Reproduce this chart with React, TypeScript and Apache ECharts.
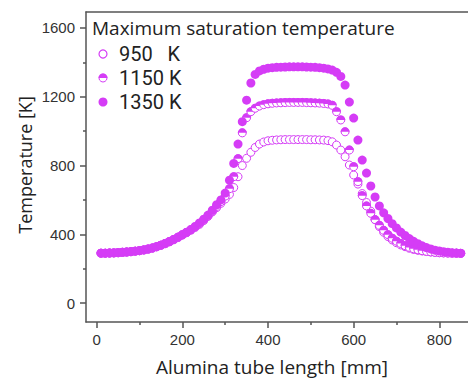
import React, { useEffect, useRef } from "react";
import * as echarts from "echarts";

const positions = [
  10, 20, 30, 40, 50, 60, 70, 80, 90, 100, 110, 120, 130, 140, 150, 160, 170, 180, 190, 200,
  210, 220, 230, 240, 250, 260, 270, 280, 290, 300, 310, 320, 330, 340, 350, 360, 370, 380, 390, 400,
  410, 420, 430, 440, 450, 460, 470, 480, 490, 500, 510, 520, 530, 540, 550, 560, 570, 580, 590, 600,
  610, 620, 630, 640, 650, 660, 670, 680, 690, 700, 710, 720, 730, 740, 750, 760, 770, 780, 790, 800,
  810, 820, 830, 840, 850,
];

const temp950 = [
  290, 290, 291, 292, 293, 295, 297, 299, 302, 305, 309, 314, 320, 327, 336, 345, 356, 368, 381, 395,
  409, 424, 440, 458, 480, 504, 530, 555, 580, 605, 632, 672, 735, 800, 842, 877, 905, 925, 937, 944,
  947, 949, 950, 951, 951, 951, 951, 951, 951, 950, 950, 949, 948, 945, 938, 919, 890, 851, 803, 745,
  692, 637, 585, 535, 485, 445, 412, 387, 367, 351, 338, 328, 319, 312, 307, 303, 300, 297, 295, 293,
  292, 291, 290, 290, 289,
];

const temp1150 = [
  290, 290, 291, 292, 293, 295, 297, 299, 302, 305, 309, 314, 320, 328, 337, 347, 358, 370, 383, 397,
  411, 426, 443, 462, 484, 508, 535, 562, 590, 622, 665, 735, 840, 990, 1078, 1113, 1133, 1146, 1154, 1159,
  1162, 1164, 1165, 1166, 1167, 1167, 1167, 1167, 1166, 1165, 1164, 1163, 1161, 1158, 1150, 1113, 1065, 996, 890, 793,
  706, 625, 565, 522, 485, 452, 423, 398, 377, 360, 346, 334, 324, 316, 310, 305, 301, 298, 295, 293,
  292, 291, 290, 290, 289,
];

const temp1350 = [
  290, 290, 291, 292, 293, 295, 297, 299, 302, 305, 309, 314, 320, 328, 337, 347, 358, 370, 384, 398,
  412, 428, 446, 466, 488, 512, 540, 572, 600, 640, 715, 812, 925, 1055, 1180, 1280, 1330, 1350, 1360, 1366,
  1369, 1371, 1372, 1373, 1374, 1374, 1374, 1374, 1373, 1372, 1371, 1369, 1366, 1362, 1355, 1342, 1318, 1268, 1169, 1076,
  948, 832, 756, 681, 617, 565, 525, 492, 462, 437, 413, 393, 375, 359, 345, 333, 323, 315, 308, 303,
  299, 296, 293, 291, 290,
];

const xMajorTicks = [0, 200, 400, 600, 800];
const xMinorTicks = [100, 300, 500, 700];
const yMajorTicks = [0, 400, 800, 1200, 1600];
const yMinorTicks = [200, 600, 1000, 1400];

const legendTitle = "Maximum saturation temperature";
const seriesNames = ["950   K", "1150 K", "1350 K"];
const xTitle = "Alumina tube length [mm]";
const yTitle = "Temperature [K]";

const MAG = "#d53cf6";
const AXIS = "#555";
const UI_FONT = "'Open Sans', 'Noto Sans', sans-serif";
const LEG_FONT = "Roboto, 'Open Sans', sans-serif";
const NUM_FONT = "'Liberation Sans', Arial, sans-serif";

const pairs = (ys: number[]) => positions.map((x, i) => [x, ys[i]]);
const plain = (v: number) => String(v);

const openMark = (cx: number, cy: number) => ({
  type: "circle",
  shape: { cx, cy, r: 4 },
  style: { fill: "#fff", stroke: MAG, lineWidth: 1 },
});
const halfMark = (cx: number, cy: number) => ({
  type: "group",
  children: [
    { type: "circle", shape: { cx, cy, r: 4 }, style: { fill: "#fff", stroke: MAG, lineWidth: 1 } },
    {
      type: "sector",
      shape: { cx, cy, r: 4.5, r0: 0, startAngle: Math.PI, endAngle: 2 * Math.PI, clockwise: true },
      style: { fill: MAG },
    },
  ],
});
const fullMark = (cx: number, cy: number) => ({
  type: "circle",
  shape: { cx, cy, r: 4.5 },
  style: { fill: MAG },
});

const markSeries = (name: string, ys: number[], z: number, draw: (x: number, y: number) => any) => ({
  name,
  type: "custom",
  z,
  xAxisIndex: 0,
  yAxisIndex: 0,
  data: pairs(ys),
  encode: { x: 0, y: 1 },
  renderItem: (_p: any, api: any) => {
    const c = api.coord([api.value(0), api.value(1)]);
    return draw(c[0], c[1]);
  },
});

const legendRows = [54, 78, 102];

export default function App() {
  const ref = useRef<HTMLDivElement>(null);
  useEffect(() => {
    if (!ref.current) return;
    const chart = echarts.init(ref.current, null, { renderer: "svg" });
    const grid = { left: 86, right: 0, top: 12, bottom: 58 };
    const xRange = { min: -25, max: 867 };
    const yRange = { min: -110, max: 1693 };
    const option: any = {
      animation: false,
      backgroundColor: "#fff",
      grid,
      xAxis: [
        {
          type: "value",
          position: "bottom",
          ...xRange,
          axisLine: { show: true, onZero: false, lineStyle: { color: AXIS, width: 1.5 } },
          axisTick: { show: true, length: 6, customValues: xMajorTicks, lineStyle: { color: AXIS, width: 1.5 } },
          axisLabel: { customValues: xMajorTicks, formatter: plain, margin: 10, fontSize: 15, fontFamily: NUM_FONT, color: "#333" },
          splitLine: { show: false },
        },
        {
          type: "value",
          position: "bottom",
          ...xRange,
          axisLine: { show: false, onZero: false },
          axisTick: { show: true, length: 3, customValues: xMinorTicks, lineStyle: { color: AXIS, width: 1.5 } },
          axisLabel: { show: false },
          splitLine: { show: false },
        },
        {
          type: "value",
          position: "top",
          ...xRange,
          axisLine: { show: true, onZero: false, lineStyle: { color: AXIS, width: 1.5 } },
          axisTick: { show: false },
          axisLabel: { show: false },
          splitLine: { show: false },
        },
      ],
      yAxis: [
        {
          type: "value",
          position: "left",
          ...yRange,
          axisLine: { show: true, onZero: false, lineStyle: { color: AXIS, width: 1.5 } },
          axisTick: { show: true, length: 6, customValues: yMajorTicks, lineStyle: { color: AXIS, width: 1.5 } },
          axisLabel: { customValues: yMajorTicks, formatter: plain, margin: 11, fontSize: 15, fontFamily: NUM_FONT, color: "#333" },
          splitLine: { show: false },
        },
        {
          type: "value",
          position: "left",
          ...yRange,
          axisLine: { show: false, onZero: false },
          axisTick: { show: true, length: 3, customValues: yMinorTicks, lineStyle: { color: AXIS, width: 1.5 } },
          axisLabel: { show: false },
          splitLine: { show: false },
        },
      ],
      series: [
        markSeries(seriesNames[0], temp950, 2, openMark),
        markSeries(seriesNames[1], temp1150, 3, halfMark),
        markSeries(seriesNames[2], temp1350, 4, fullMark),
      ],
      graphic: [
        {
          type: "text",
          x: 25,
          y: 165,
          rotation: Math.PI / 2,
          style: { text: yTitle, font: `18px ${UI_FONT}`, lineHeight: 20, fill: "#222", align: "center", verticalAlign: "middle" },
        },
        {
          type: "text",
          x: 272,
          y: 367,
          style: { text: xTitle, font: `19px ${UI_FONT}`, lineHeight: 20, fill: "#222", align: "center", verticalAlign: "middle" },
        },
        {
          type: "text",
          x: 92,
          y: 28,
          style: { text: legendTitle, font: `19px ${UI_FONT}`, lineHeight: 20, fill: "#222", align: "left", verticalAlign: "middle" },
        },
        { ...openMark(103, legendRows[0]), style: { fill: "#fff", stroke: MAG, lineWidth: 1.2 } },
        halfMark(103, legendRows[1]),
        fullMark(103, legendRows[2]),
        ...seriesNames.map((s, i) => ({
          type: "text",
          x: 119,
          y: legendRows[i],
          style: { text: s, font: `20px ${LEG_FONT}`, lineHeight: 22, fill: "#222", align: "left", verticalAlign: "middle" },
        })),
      ],
    };
    chart.setOption(option);
    return () => chart.dispose();
  }, []);
  return (
    <div
      ref={ref}
      style={{ position: "absolute", left: 0, top: 0, width: 468, height: 380, background: "#fff" }}
    />
  );
}
